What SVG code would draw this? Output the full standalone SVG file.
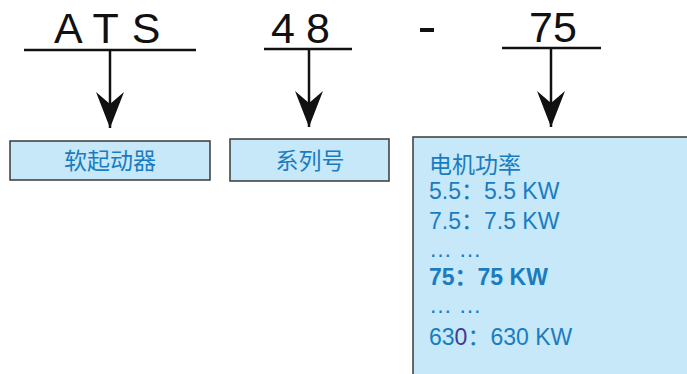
<svg xmlns="http://www.w3.org/2000/svg" width="687" height="374" viewBox="0 0 687 374">
<style>
.code{font-family:"Liberation Sans",Arial,sans-serif;font-size:43px;fill:#111}
.bar{stroke:#111;stroke-width:2.5}
.box{fill:#c6e8f8;stroke:#3a3a3a;stroke-width:1.5}
.lbl{font-family:"Noto Sans CJK SC","Liberation Sans",sans-serif;font-size:23px;fill:#1a7cc0}
.val{font-family:"Liberation Sans","Noto Sans CJK SC",sans-serif;font-size:23px;fill:#1a7cc0}
</style>
<defs>
<marker id="ah" viewBox="0 0 36 28" refX="36" refY="14" markerWidth="36" markerHeight="28" markerUnits="userSpaceOnUse" orient="auto">
<path d="M0,0 L12,14 L0,28 L36,14 Z" fill="#111"/>
</marker>
</defs>
<g id="code-ats">
<text class="code" x="54" y="43" letter-spacing="13">ATS</text>
<line class="bar" x1="24" y1="50" x2="196" y2="50"/>
</g>
<g id="code-48">
<text class="code" x="271" y="43" letter-spacing="11">48</text>
<line class="bar" x1="264" y1="49" x2="352" y2="49"/>
</g>
<g id="dash">
<rect x="420" y="28" width="14" height="4" fill="#111"/>
</g>
<g id="code-75">
<text class="code" x="529" y="42">75</text>
<line class="bar" x1="502" y1="48" x2="601" y2="48"/>
</g>
<g id="connectors" stroke="#111" stroke-width="2.5" fill="none">
<line x1="110" y1="50" x2="110" y2="128" marker-end="url(#ah)"/>
<line x1="309" y1="49" x2="309" y2="127" marker-end="url(#ah)"/>
<line x1="551" y1="48" x2="551" y2="127" marker-end="url(#ah)"/>
</g>
<g id="box-softstarter">
<rect class="box" x="10" y="141" width="200" height="39"/>
<text class="lbl" x="110" y="169" text-anchor="middle">软起动器</text>
</g>
<g id="box-series">
<rect class="box" x="230" y="139" width="159" height="42"/>
<text class="lbl" x="310" y="169" text-anchor="middle">系列号</text>
</g>
<g id="box-power">
<rect class="box" x="413" y="137" width="290" height="250"/>
<text class="lbl" x="429" y="173">电机功率</text>
<text class="val" x="429" y="199">5.5：5.5 KW</text>
<text class="val" x="429" y="229">7.5：7.5 KW</text>
<text class="val" x="429" y="257">… …</text>
<text class="val" x="429" y="285" font-weight="bold">75：75 KW</text>
<text class="val" x="429" y="313">… …</text>
<text class="val" x="429" y="345">63<tspan fill="#3d3a9a">0</tspan>：630 KW</text>
</g>
</svg>
